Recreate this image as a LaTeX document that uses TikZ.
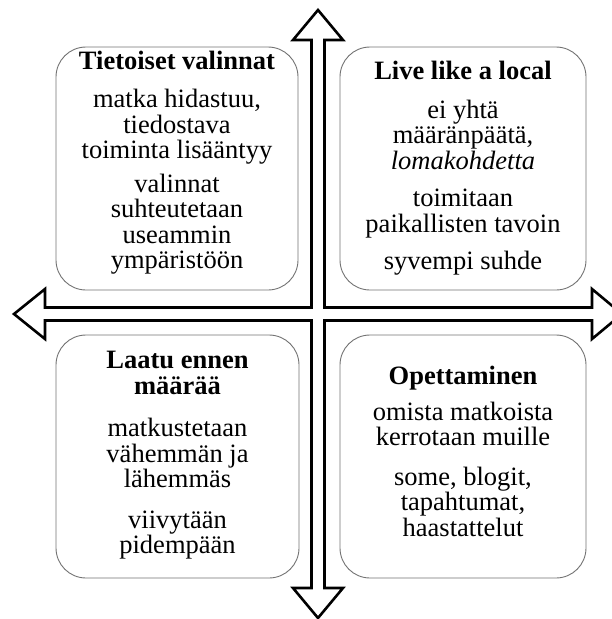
\documentclass[tikz,border=0pt]{standalone}
\usepackage{fontspec}
\setmainfont{Liberation Serif}
\begin{document}
\begin{tikzpicture}[x=1pt,y=-1pt,
  qbox/.style={draw=black!55, line width=0.9pt, rounded corners=30pt, fill=white, inner sep=0pt},
  qtext/.style={align=center, inner sep=0pt, font=\fontsize{26.5}{25.5}\selectfont},
  crossarrow/.style={draw=black, line width=2.6pt, fill=white, line join=miter}]
\useasboundingbox (0,0) rectangle (612,619);
\begin{scope}
\clip (0,0) rectangle (612,619);
% quadrant boxes
\node[qbox, minimum width=242pt, minimum height=243pt] (tl) at (177,168.5) {};
\node[qbox, minimum width=246pt, minimum height=243pt] (tr) at (463,168.5) {};
\node[qbox, minimum width=243pt, minimum height=243pt] (bl) at (177.5,456.5) {};
\node[qbox, minimum width=246pt, minimum height=243pt] (br) at (463,456.5) {};
% texts
\node[qtext] (tlt) at ([yshift=6pt]tl.center) {\textbf{Tietoiset valinnat}\\[13pt]
  matka hidastuu,\\ tiedostava\\ toiminta lisääntyy\\[8pt]
  valinnat\\ suhteutetaan\\ useammin\\ ympäristöön};
\node[qtext] (trt) at ([yshift=0pt]tr.center) {\textbf{Live like a local}\\[13pt]
  ei yhtä\\ määränpäätä,\\ \textit{lomakohdetta}\\[12pt]
  toimitaan\\ paikallisten tavoin\\[12pt]
  syvempi suhde};
\node[qtext] (blt) at ([yshift=1pt]bl.center) {\textbf{Laatu ennen}\\ \textbf{määrää}\\[17pt]
  matkustetaan\\ vähemmän ja\\ lähemmäs\\[15pt]
  viivytään\\ pidempään};
\node[qtext] (brt) at ([yshift=5pt]br.center) {\textbf{Opettaminen}\\[10pt]
  omista matkoista\\ kerrotaan muille\\[14pt]
  some, blogit,\\ tapahtumat,\\ haastattelut};
% cross of double arrows (one outline)
\draw[crossarrow] (318,10) -- (343,40) -- (324.5,40) -- (324.5,307.5) -- (592,307.5)
  -- (592,289) -- (622,314) -- (592,339) -- (592,320.5) -- (324.5,320.5)
  -- (324.5,588) -- (343,588) -- (318,618) -- (293,588) -- (311.5,588)
  -- (311.5,320.5) -- (45,320.5) -- (45,339) -- (14,314) -- (45,289)
  -- (45,307.5) -- (311.5,307.5) -- (311.5,40) -- (293,40) -- cycle;
\end{scope}
\end{tikzpicture}
\end{document}
